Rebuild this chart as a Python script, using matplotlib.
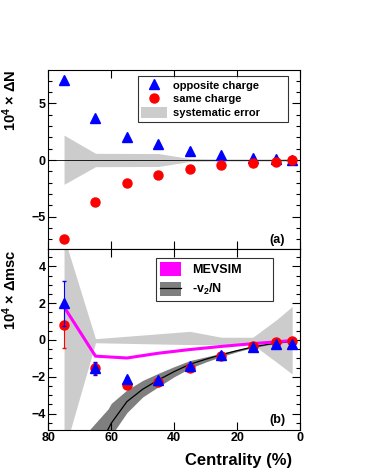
import matplotlib
matplotlib.use('Agg')
import matplotlib.pyplot as plt
from matplotlib.patches import Patch
from matplotlib.lines import Line2D
from matplotlib.ticker import MultipleLocator

plt.rcParams['font.family'] = ['Liberation Sans', 'DejaVu Sans']
plt.rcParams['font.weight'] = 'bold'
plt.rcParams['mathtext.fontset'] = 'custom'
plt.rcParams['mathtext.rm'] = 'Liberation Sans:bold'
plt.rcParams['mathtext.it'] = 'Liberation Sans:bold'
plt.rcParams['mathtext.bf'] = 'Liberation Sans:bold'
plt.rcParams['mathtext.default'] = 'rm'

# ---------------- data ----------------
centrality = [75, 65, 55, 45, 35, 25, 15, 7.5, 2.5]

# panel (a)
dn_opposite = [7.05, 3.68, 2.0, 1.38, 0.79, 0.46, 0.22, 0.12, 0.02]
dn_same = [-7.0, -3.7, -2.02, -1.35, -0.8, -0.44, -0.24, -0.14, -0.02]
sys_a_x = [75, 65, 45, 35, 25, 15, 7.5, 2.5]
sys_a_hi = [2.2, 0.59, 0.57, 0.13, 0.1, 0.1, 0.1, 0.15]
sys_a_lo = [-2.15, -0.59, -0.57, -0.13, -0.1, -0.1, -0.1, -0.15]

# panel (b)
msc_opposite = [2.0, -1.55, -2.1, -2.2, -1.42, -0.82, -0.37, -0.22, -0.22]
err_opposite = [1.22, 0.36, 0.1, 0.08, 0.08, 0.06, 0.05, 0.05, 0.05]
msc_same = [0.8, -1.54, -2.43, -2.26, -1.5, -0.87, -0.35, -0.12, -0.08]
err_same = [1.22, 0.3, 0.1, 0.08, 0.08, 0.06, 0.05, 0.05, 0.05]
sys_b_x = [75, 65, 35, 25, 15, 7.5, 2.5]
sys_b_hi = [5.6, 0.07, 0.47, 0.15, 0.15, 1.1, 1.82]
sys_b_lo = [-6.1, -0.15, -0.25, -0.25, -0.25, -1.2, -1.85]
mevsim = [1.8, -0.88, -0.98, -0.72, -0.52, -0.35, -0.2, -0.1, -0.03]
v2n_x = [67, 61, 60, 55, 50, 45, 40, 35, 30, 25, 20, 15, 10, 5, 2.5]
v2n = [-6.5, -4.86, -4.53, -3.35, -2.68, -2.17, -1.72, -1.32, -1.05, -0.8, -0.58, -0.38, -0.23, -0.12, -0.07]
v2n_hi = [-4.9, -3.75, -3.45, -2.72, -2.2, -1.81, -1.45, -1.12, -0.92, -0.72, -0.52, -0.34, -0.2, -0.1, -0.06]
v2n_lo = [-8.0, -6.0, -5.2, -3.95, -3.1, -2.54, -2.0, -1.54, -1.2, -0.9, -0.64, -0.42, -0.26, -0.14, -0.08]

# ---------------- figure ----------------
fig = plt.figure(figsize=(3.66, 4.73), dpi=100)
left, width = 48.3 / 366, 251.7 / 366
axa = fig.add_axes([left, (473 - 249) / 473, width, 179 / 473])
axb = fig.add_axes([left, (473 - 429.5) / 473, width, 180.5 / 473])

BLUE = '#0000ff'
RED = '#ff0000'
LGREY = '#cccccc'
DGREY = '#7f7f7f'
MAG = '#ff00ff'

def style(ax, ymaj, ymin):
    ax.set_xlim(80, 0)
    ax.xaxis.set_major_locator(MultipleLocator(20))
    ax.yaxis.set_major_locator(MultipleLocator(ymaj))
    ax.yaxis.set_minor_locator(MultipleLocator(ymin))
    ax.tick_params(which='both', direction='in', top=True, right=True,
                   labelsize=9, width=0.8)
    ax.tick_params(which='major', length=5.5, pad=2)
    ax.tick_params(which='minor', length=3)
    ax.tick_params(axis='x', which='minor', bottom=False, top=False)
    for s in ax.spines.values():
        s.set_linewidth(0.8)
    for lab in ax.get_xticklabels() + ax.get_yticklabels():
        lab.set_fontweight('bold')

# ----- panel (a)
axa.fill_between(sys_a_x, sys_a_lo, sys_a_hi, color=LGREY, lw=0, zorder=1)
axa.axhline(0, color='black', lw=0.6, zorder=1.5)
axa.plot(centrality, dn_opposite, ls='none', marker='^', ms=6.5, color=BLUE,
         zorder=3)
axa.plot(centrality, dn_same, ls='none', marker='o', ms=6.5, color=RED,
         zorder=3)
axa.set_ylim(-7.86, 7.95)
style(axa, 5, 1)
axa.tick_params(axis='x', labelbottom=False)
axa.set_ylabel(r'$10^{4}$ $\times$ $\Delta$N', fontsize=10.5,
               fontweight='bold', loc='top')
axa.yaxis.set_label_coords(-0.115, 1.0)
axa.text(0.91, 0.05, '(a)', transform=axa.transAxes, ha='center',
         va='center', fontsize=9, fontweight='bold')

ha = [Line2D([], [], ls='none', marker='^', ms=6.5, color=BLUE),
      Line2D([], [], ls='none', marker='o', ms=6.5, color=RED),
      Patch(facecolor=LGREY, edgecolor='none')]
leg = axa.legend(ha, ['opposite charge', 'same charge', 'systematic error'],
                 loc='upper left', bbox_to_anchor=(0.356, 0.0, 0.596, 0.966),
                 mode='expand', fontsize=8, frameon=True, fancybox=False,
                 edgecolor='black', borderpad=0.3, labelspacing=0.25,
                 handlelength=2.35, handleheight=1.1, handletextpad=0.55,
                 borderaxespad=0.0)
leg.get_frame().set_linewidth(0.8)
for t in leg.get_texts():
    t.set_fontweight('bold')

# ----- panel (b)
axb.fill_between(sys_b_x, sys_b_lo, sys_b_hi, color=LGREY, lw=0, zorder=1)
axb.fill_between(v2n_x, v2n_lo, v2n_hi, color=DGREY, lw=0, zorder=1.2)
axb.plot(v2n_x, v2n, color='black', lw=0.9, zorder=1.4)
axb.plot(centrality, mevsim, color=MAG, lw=2.2, zorder=2)
axb.errorbar(centrality, msc_same, yerr=err_same, ls='none', marker='o',
             ms=6.5, color=RED, ecolor=RED, elinewidth=0.8, capsize=1.5,
             zorder=3)
axb.errorbar(centrality, msc_opposite, yerr=err_opposite, ls='none',
             marker='^', ms=6.5, color=BLUE, ecolor=BLUE, elinewidth=0.8,
             capsize=1.5, zorder=4)
axb.set_ylim(-4.87, 4.95)
style(axb, 2, 0.5)
axb.set_ylabel(r'$10^{4}$ $\times$ $\Delta$msc', fontsize=10.5,
               fontweight='bold', loc='top')
axb.yaxis.set_label_coords(-0.115, 1.0)
axb.set_xlabel('Centrality (%)', fontsize=12, fontweight='bold', loc='right')
axb.xaxis.set_label_coords(0.97, -0.13)
axb.text(0.91, 0.053, '(b)', transform=axb.transAxes, ha='center',
         va='center', fontsize=9, fontweight='bold')

hb = [Patch(facecolor=MAG, edgecolor='none'),
      (Patch(facecolor=DGREY, edgecolor='none'),
       Line2D([], [], color='black', lw=0.9))]
legb = axb.legend(hb, ['MEVSIM', r'-v$_2$/N'], loc='upper left',
                  bbox_to_anchor=(0.428, 0.0, 0.465, 0.95), mode='expand',
                  fontsize=9, frameon=True, fancybox=False, edgecolor='black',
                  borderpad=0.3, labelspacing=0.48, handlelength=1.7,
                  handleheight=1.35, handletextpad=0.9, borderaxespad=0.0)
legb.get_frame().set_linewidth(0.8)
for t in legb.get_texts():
    t.set_fontweight('bold')

fig.savefig('out.png', dpi=100)
